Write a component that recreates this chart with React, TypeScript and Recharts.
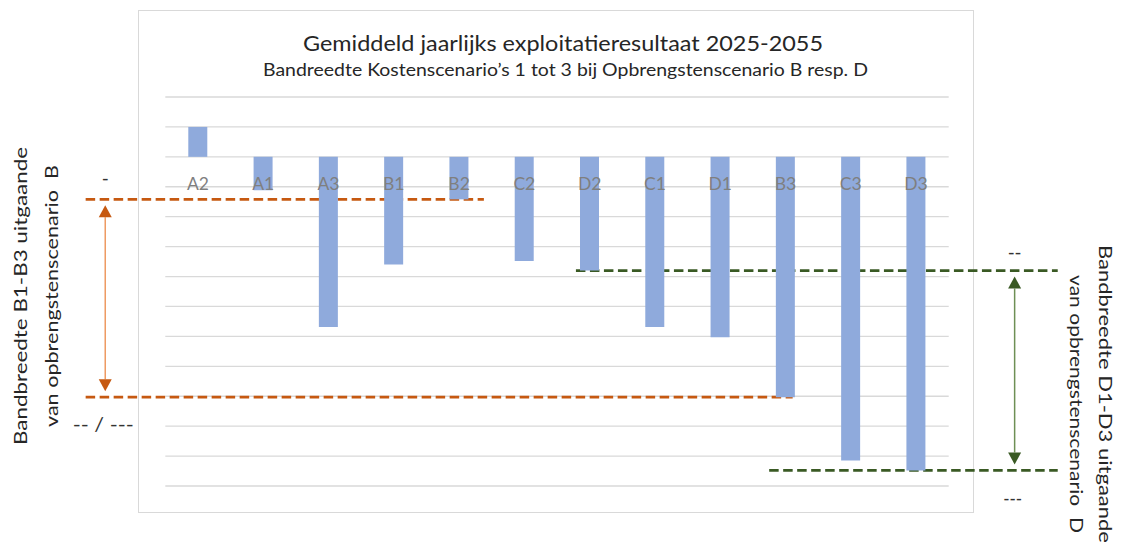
import React from 'react';
import { BarChart, Bar, XAxis, YAxis, CartesianGrid, ReferenceArea, ReferenceDot } from 'recharts';

const categories = ['A2', 'A1', 'A3', 'B1', 'B2', 'C2', 'D2', 'C1', 'D1', 'B3', 'C3', 'D3'];
const results = [1.0, -1.12, -5.69, -3.6, -1.42, -3.48, -3.8, -5.69, -6.03, -8.03, -10.15, -10.48];
const yTicks = [2, 1, 0, -1, -2, -3, -4, -5, -6, -7, -8, -9, -10, -11];
const bandB = [results[4], results[9]]; // B2 .. B3
const bandD = [results[6], results[11]]; // D2 .. D3
const bandLabelsB = ['-', '-- / ---'];
const bandLabelsD = ['--', '---'];
const titleText = 'Gemiddeld jaarlijks exploitatieresultaat 2025-2055';
const subtitleText = 'Bandreedte Kostenscenario\u2019s 1 tot 3 bij Opbrengstenscenario B resp. D';
const leftLines = ['Bandbreedte B1-B3 uitgaande', 'van opbrengstenscenario\u00A0 B'];
const rightLines = ['Bandbreedte D1-D3 uitgaande', 'van opbrengstenscenario\u00A0 D'];

const data = categories.map((name, i) => ({ name, value: results[i] }));

const FONT = 'Lato, "Open Sans", sans-serif';

type BandCfg = {
  dash: string;
  arrowLine: string;
  head: string;
  start: number;
  topEnd: number;
  bottomStart: number;
  bottomEnd: number;
  arrowX: number;
  labels: string[];
  labelWidths: number[];
  labelTopDy: number;
  labelBottomDy: number;
};

const DashText = ({ x, y, text, w }: { x: number; y: number; text: string; w: number }) => (
  <text
    x={x}
    y={y}
    textAnchor="middle"
    dominantBaseline="central"
    fontFamily={FONT}
    fontSize={19}
    fill="#333"
    {...(text.length > 1 ? { textLength: w, lengthAdjust: 'spacingAndGlyphs' } : {})}
  >
    {text}
  </text>
);

const makeBandShape = (cfg: BandCfg) => (props: any) => {
  const { x, y, width, height } = props;
  const band = width / categories.length;
  const X = (f: number) => x + band * f;
  const yTop = y;
  const yBot = y + height;
  const ax = X(cfg.arrowX);
  const gap = 6;
  const hl = 12;
  const hw = 6.5;
  return (
    <g>
      <line x1={X(cfg.start)} x2={X(cfg.topEnd)} y1={yTop} y2={yTop} stroke={cfg.dash} strokeWidth={2.8} strokeDasharray="9.5 4.5" />
      <line x1={X(cfg.bottomStart)} x2={X(cfg.bottomEnd)} y1={yBot} y2={yBot} stroke={cfg.dash} strokeWidth={2.8} strokeDasharray="9.5 4.5" />
      <line x1={ax} x2={ax} y1={yTop + gap + hl} y2={yBot - gap - hl} stroke={cfg.arrowLine} strokeWidth={1.5} />
      <polygon points={`${ax},${yTop + gap} ${ax - hw},${yTop + gap + hl} ${ax + hw},${yTop + gap + hl}`} fill={cfg.head} />
      <polygon points={`${ax},${yBot - gap} ${ax - hw},${yBot - gap - hl} ${ax + hw},${yBot - gap - hl}`} fill={cfg.head} />
      <DashText x={ax} y={yTop + cfg.labelTopDy} text={cfg.labels[0]} w={cfg.labelWidths[0]} />
      <DashText x={ax - 2} y={yBot + cfg.labelBottomDy} text={cfg.labels[1]} w={cfg.labelWidths[1]} />
    </g>
  );
};

const bandShapeB = makeBandShape({
  dash: '#C65911',
  arrowLine: '#EE9A62',
  head: '#C65911',
  start: -1.22,
  topEnd: 4.88,
  bottomStart: -1.22,
  bottomEnd: 9.61,
  arrowX: -0.92,
  labels: bandLabelsB,
  labelWidths: [5, 61],
  labelTopDy: -22,
  labelBottomDy: 26,
});

const bandShapeD = makeBandShape({
  dash: '#3A5A24',
  arrowLine: '#6E8F55',
  head: '#3A5A24',
  start: 6.29,
  topEnd: 13.67,
  bottomStart: 9.25,
  bottomEnd: 13.67,
  arrowX: 13.01,
  labels: bandLabelsD,
  labelWidths: [14, 19],
  labelTopDy: -19,
  labelBottomDy: 27,
});

const CatLabel = (name: string) => (props: any) => {
  const { cx, cy } = props;
  return (
    <text x={cx} y={cy + 26.5} textAnchor="middle" dominantBaseline="central" fontFamily={FONT} fontSize={17.5} fill="#7F7F7F">
      {name}
    </text>
  );
};

export default function App() {
  return (
    <div style={{ position: 'absolute', left: 0, top: 0, width: 1121, height: 544, background: '#fff', overflow: 'hidden' }}>
      <div style={{ position: 'absolute', left: 138, top: 10, width: 834, height: 501, border: '1px solid #D9D9D9' }} />
      <div style={{ position: 'absolute', left: 0, top: 0 }}>
        <BarChart width={1121} height={544} data={data} margin={{ top: 97, right: 172.3, bottom: 58, left: 165.3 }} barCategoryGap={0}>
          <CartesianGrid vertical={false} stroke="#D9D9D9" strokeWidth={1.3} />
          <XAxis dataKey="name" hide />
          <YAxis hide type="number" domain={[-11, 2]} ticks={yTicks} />
          <Bar dataKey="value" fill="#8FAADC" barSize={19} isAnimationActive={false} />
          {categories.map((c) => (
            <ReferenceDot key={c} x={c} y={0} r={0} shape={CatLabel(c)} />
          ))}
          <ReferenceArea y1={bandB[0]} y2={bandB[1]} shape={bandShapeB} />
          <ReferenceArea y1={bandD[0]} y2={bandD[1]} shape={bandShapeD} />
        </BarChart>
      </div>
      <svg width={1121} height={544} style={{ position: 'absolute', left: 0, top: 0, pointerEvents: 'none' }}>
        <text x={563} y={43} textAnchor="middle" dominantBaseline="central" fontFamily={FONT} fontSize={20.5} fill="#262626" textLength={520} lengthAdjust="spacingAndGlyphs">{titleText}</text>
        <text x={565.5} y={70} textAnchor="middle" dominantBaseline="central" fontFamily={FONT} fontSize={16.5} fill="#262626" textLength={605} lengthAdjust="spacingAndGlyphs">{subtitleText}</text>
        <g transform="translate(20,296) rotate(-90)">
          <text x={0} y={0} textAnchor="middle" dominantBaseline="central" fontFamily={FONT} fontSize={18} fill="#262626" textLength={298} lengthAdjust="spacingAndGlyphs">{leftLines[0]}</text>
        </g>
        <g transform="translate(51,296) rotate(-90)">
          <text x={0} y={0} textAnchor="middle" dominantBaseline="central" fontFamily={FONT} fontSize={18} fill="#262626" textLength={262} lengthAdjust="spacingAndGlyphs">{leftLines[1]}</text>
        </g>
        <g transform="translate(1106,245) rotate(90)">
          <text x={0} y={0} textAnchor="start" dominantBaseline="central" fontFamily={FONT} fontSize={18} fill="#262626" textLength={298} lengthAdjust="spacingAndGlyphs">{rightLines[0]}</text>
        </g>
        <g transform="translate(1077,275) rotate(90)">
          <text x={0} y={0} textAnchor="start" dominantBaseline="central" fontFamily={FONT} fontSize={18} fill="#262626" textLength={258} lengthAdjust="spacingAndGlyphs">{rightLines[1]}</text>
        </g>
      </svg>
    </div>
  );
}
